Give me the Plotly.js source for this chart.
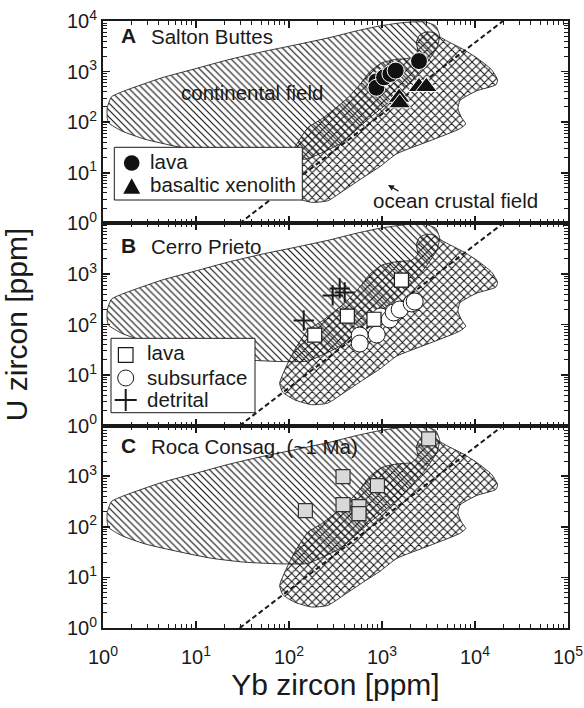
<!DOCTYPE html>
<html>
<head>
<meta charset="utf-8">
<script src="https://cdn.plot.ly/plotly-3.0.1.min.js"></script>
<style>
  html, body { margin: 0; padding: 0; background: #fff; }
  #chart { width: 584px; height: 708px; }
</style>
</head>
<body>
<div id="chart"></div>
<script>
// ---------- tick labels ----------
const xTickVals = [1, 10, 100, 1000, 10000, 100000];
const xTickText = ['10<sup>0</sup>', '10<sup>1</sup>', '10<sup>2</sup>', '10<sup>3</sup>', '10<sup>4</sup>', '10<sup>5</sup>'];
const yTickValsTop = [1, 10, 100, 1000, 10000];
const yTickTextTop = ['10<sup>0</sup>', '10<sup>1</sup>', '10<sup>2</sup>', '10<sup>3</sup>', '10<sup>4</sup>'];
const yTickVals = [1, 10, 100, 1000];
const yTickText = ['10<sup>0</sup>', '10<sup>1</sup>', '10<sup>2</sup>', '10<sup>3</sup>'];

// ---------- reference fields (Yb, U in ppm) ----------
const continentalYb = [1.11, 1.11, 1.23, 1.59, 4.25, 9.68, 21.9, 50.8, 118, 274, 531, 950, 1754, 2877, 3776,
  4169, 3873, 2877, 1549, 738, 351, 157, 115, 75.5, 33.3, 14.7, 6.40, 2.81, 1.58, 1.15];
const continentalU = [123, 192, 316, 397, 750, 1130, 1702, 2449, 3370, 4699, 6368, 8000, 9380, 9594, 8000,
  5082, 2938, 1294, 379, 122, 37.2, 18.8, 18.4, 18.6, 20.0, 23.9, 32.5, 46.1, 67.3, 96.8];

const oceanYb = [79.4, 89.9, 115, 160, 225, 310, 428, 575, 738, 993, 1403, 2085, 2421, 2344, 2541, 3027, 3690,
  4178, 4966, 7430, 10350, 15000, 17500, 16710, 10420, 6900, 6560, 7190, 7940, 6840, 3260, 1439, 944, 619,
  397, 261, 175, 115, 85.5];
const oceanU = [6.92, 12.7, 31.5, 78.2, 116, 183, 302, 546, 986, 1486, 1742, 1866, 2449, 3864, 5309, 6095, 5821,
  4853, 4046, 2773, 1892, 1100, 680, 546, 416, 270, 183, 122, 92.5, 73.8, 42.7, 23.7, 13.1, 7.93,
  4.59, 2.79, 2.60, 3.24, 4.59];

// dashed divide
const divideYb = [29.5, 20000];
const divideU = [1, 10000];

// ---------- A: Salton Buttes ----------
const saltonLavaYb = [871, 871, 1052, 1231, 1403, 2500];
const saltonLavaU = [640, 480, 769, 898, 1045, 1614];
const saltonXenolithYb = [1528, 1550, 2500, 3000];
const saltonXenolithU = [307, 238, 501, 501];

// ---------- B: Cerro Prieto ----------
const cerroLavaYb = [189, 424, 820, 1618];
const cerroLavaU = [61.4, 146, 127, 754];
const cerroSubsurfaceYb = [576, 576, 877, 968, 1210, 1337, 1550, 2085, 2247];
const cerroSubsurfaceU = [60.5, 42, 63.4, 144, 126, 173, 198, 261, 285];
const cerroDetritalYb = [144, 295, 351, 397];
const cerroDetritalU = [120, 375, 516, 430];

// ---------- C: Roca Consag ----------
const consagYb = [150, 381, 381, 566, 566, 893, 3177];
const consagU = [210, 986, 276, 252, 183, 655, 5483];

// ---------- text ----------
const panelLetters = ['A', 'B', 'C'];
const panelNames = ['Salton Buttes', 'Cerro Prieto', 'Roca Consag. (~1 Ma)'];

// ---------- geometry helpers ----------
const W = 584, H = 708;
const M = { l: 103, r: 16, t: 21, b: 80 };
const px = x => (x - M.l) / (W - M.l - M.r);
const py = y => (H - M.b - y) / (H - M.t - M.b);

const FONT = 'Liberation Sans, Arial, Helvetica, sans-serif';
const INK = '#1a1a1a';

const close = a => a.concat([a[0]]);

// ---------- traces ----------
const traces = [];
const panels = [
  { xa: 'x', ya: 'y' },
  { xa: 'x2', ya: 'y2' },
  { xa: 'x3', ya: 'y3' }
];

panels.forEach(p => {
  traces.push({
    type: 'scatter', mode: 'lines', xaxis: p.xa, yaxis: p.ya,
    x: close(continentalYb), y: close(continentalU),
    fill: 'toself', fillcolor: 'rgba(0,0,0,0)',
    fillpattern: { shape: '\\', size: 4.9, solidity: 0.24, fgcolor: '#111', bgcolor: 'rgba(0,0,0,0)' },
    line: { color: '#222', width: 0.9, shape: 'spline', smoothing: 0.5 },
    hoverinfo: 'skip', showlegend: false
  });
  traces.push({
    type: 'scatter', mode: 'lines', xaxis: p.xa, yaxis: p.ya,
    x: close(oceanYb), y: close(oceanU),
    fill: 'toself', fillcolor: 'rgba(0,0,0,0)',
    fillpattern: { shape: 'x', size: 5.8, solidity: 0.32, fgcolor: '#111', bgcolor: 'rgba(0,0,0,0)' },
    line: { color: '#222', width: 0.9, shape: 'spline', smoothing: 0.5 },
    hoverinfo: 'skip', showlegend: false
  });
  traces.push({
    type: 'scatter', mode: 'lines', xaxis: p.xa, yaxis: p.ya,
    x: divideYb, y: divideU,
    line: { color: INK, width: 2, dash: '5px,3px' },
    hoverinfo: 'skip', showlegend: false
  });
});

// Salton Buttes
traces.push({
  type: 'scatter', mode: 'markers', xaxis: 'x', yaxis: 'y', name: 'lava',
  x: saltonLavaYb, y: saltonLavaU,
  marker: { symbol: 'circle', size: 17, color: '#111', line: { color: '#fff', width: 1 } },
  showlegend: false
});
traces.push({
  type: 'scatter', mode: 'markers', xaxis: 'x', yaxis: 'y', name: 'basaltic xenolith',
  x: saltonXenolithYb, y: saltonXenolithU,
  marker: { symbol: 'triangle-up', size: 19, color: '#111', line: { color: '#fff', width: 1 } },
  showlegend: false
});

// Cerro Prieto
traces.push({
  type: 'scatter', mode: 'markers', xaxis: 'x2', yaxis: 'y2', name: 'subsurface',
  x: cerroSubsurfaceYb, y: cerroSubsurfaceU,
  marker: { symbol: 'circle', size: 17, color: '#fff', line: { color: INK, width: 1 } },
  showlegend: false
});
traces.push({
  type: 'scatter', mode: 'markers', xaxis: 'x2', yaxis: 'y2', name: 'lava',
  x: cerroLavaYb, y: cerroLavaU,
  marker: { symbol: 'square', size: 14, color: '#fff', line: { color: INK, width: 1.2 } },
  showlegend: false
});
traces.push({
  type: 'scatter', mode: 'markers', xaxis: 'x2', yaxis: 'y2', name: 'detrital',
  x: cerroDetritalYb, y: cerroDetritalU,
  marker: { symbol: 'cross-thin', size: 14.5, color: INK, line: { color: INK, width: 2 } },
  showlegend: false
});

// Roca Consag
traces.push({
  type: 'scatter', mode: 'markers', xaxis: 'x3', yaxis: 'y3', name: 'Roca Consag',
  x: consagYb, y: consagU,
  marker: { symbol: 'square', size: 14, color: '#d9d9d9', line: { color: '#333', width: 1.2 } },
  showlegend: false
});

// ---------- axes ----------
const tickFont = { family: FONT, size: 20, color: INK };
const baseAxis = {
  type: 'log', ticks: 'inside', ticklen: 7, tickwidth: 1.5, tickcolor: INK,
  showline: true, linewidth: 2, linecolor: INK, mirror: 'allticks',
  showgrid: false, zeroline: false, fixedrange: true, tickfont: tickFont,
  minor: { tickmode: 'linear', dtick: 'D1', ticks: 'inside', ticklen: 4, tickwidth: 1, tickcolor: INK }
};
const xAxis = (anchor, labels) => Object.assign({}, baseAxis, {
  anchor: anchor, range: [0, 5], tickmode: 'array', tickvals: xTickVals, ticktext: xTickText,
  showticklabels: labels
});
const yAxis = (dom, vals, text) => Object.assign({}, baseAxis, {
  domain: dom, range: [0, 4], tickmode: 'array', tickvals: vals, ticktext: text
});

const layout = {
  width: W, height: H, margin: M,
  paper_bgcolor: '#fff', plot_bgcolor: 'rgba(0,0,0,0)',
  font: { family: FONT, color: INK },
  showlegend: false,
  xaxis: xAxis('y', false),
  xaxis2: xAxis('y2', false),
  xaxis3: Object.assign(xAxis('y3', true), {
    ticklabelstandoff: 10,
    title: { text: 'Yb zircon [ppm]', font: { family: FONT, size: 30, color: INK }, standoff: 5 }
  }),
  yaxis: Object.assign(yAxis([2 / 3, 1], yTickValsTop, yTickTextTop), { anchor: 'x' }),
  yaxis2: Object.assign(yAxis([1 / 3, 2 / 3], yTickVals, yTickText), {
    anchor: 'x2',
    title: { text: 'U zircon [ppm]', font: { family: FONT, size: 30, color: INK }, standoff: 30 }
  }),
  yaxis3: Object.assign(yAxis([0, 1 / 3], yTickVals, yTickText), { anchor: 'x3' }),
  shapes: [],
  annotations: []
};

// ---------- text labels ----------
function label(text, x, baseline, size, extra) {
  return Object.assign({
    xref: 'paper', yref: 'paper', x: px(x), y: py(baseline - 0.35 * size),
    xanchor: 'left', yanchor: 'middle', showarrow: false, text: text,
    font: { family: FONT, size: size, color: INK }
  }, extra || {});
}

const baselines = [43.3, 253.3, 453.3];
panelLetters.forEach((l, i) => {
  layout.annotations.push(label('<b>' + l + '</b>', 119, baselines[i], 21));
  layout.annotations.push(label(panelNames[i], 149, baselines[i], 20.5));
});
layout.annotations.push(label('continental field', 179, 99.3, 20.5));
layout.annotations.push(label('ocean crustal field', 371, 208, 20.5));
layout.annotations.push({
  xref: 'paper', yref: 'paper', x: px(388), y: py(185), ax: 12, ay: 7,
  text: '', showarrow: true, arrowhead: 2, arrowsize: 1, arrowwidth: 1.2, arrowcolor: INK
});

// ---------- key boxes ----------
function box(x0, y0, x1, y1) {
  return { type: 'rect', xref: 'paper', yref: 'paper', x0: px(x0), x1: px(x1), y0: py(y1), y1: py(y0),
    line: { color: INK, width: 1 }, fillcolor: '#fff', layer: 'above' };
}
function glyph(type, cx, cy, spec) {
  return Object.assign({
    type: type, xref: 'paper', yref: 'paper', xsizemode: 'pixel', ysizemode: 'pixel',
    xanchor: px(cx), yanchor: py(cy), layer: 'above'
  }, spec);
}

// key A
layout.shapes.push(box(114.3, 147.3, 302.3, 200));
layout.shapes.push(glyph('circle', 131.7, 163, { x0: -7.8, x1: 7.8, y0: -7.8, y1: 7.8, fillcolor: '#111', line: { width: 0 } }));
layout.shapes.push(glyph('path', 131.7, 186.7, { path: 'M-8.5,-7 L8.5,-7 L0,8.5 Z', fillcolor: '#111', line: { width: 0 } }));
layout.annotations.push(label('lava', 148, 168.3, 20.5));
layout.annotations.push(label('basaltic xenolith', 148, 191.7, 20.5));

// key B
layout.shapes.push(box(111, 338.3, 255, 412.7));
layout.shapes.push(glyph('rect', 125.7, 355, { x0: -7.3, x1: 7.3, y0: -7.3, y1: 7.3, fillcolor: '#fff', line: { color: INK, width: 1.2 } }));
layout.shapes.push(glyph('circle', 125.7, 378, { x0: -8, x1: 8, y0: -8, y1: 8, fillcolor: '#fff', line: { color: INK, width: 1 } }));
layout.shapes.push(glyph('path', 125.7, 400, { path: 'M-11,0 L11,0 M0,-11 L0,11', line: { color: INK, width: 2 } }));
layout.annotations.push(label('lava', 145, 359.3, 20.5));
layout.annotations.push(label('subsurface', 145, 384.3, 20.5));
layout.annotations.push(label('detrital', 145, 406.7, 20.5));

Plotly.newPlot('chart', traces, layout, { displayModeBar: false, staticPlot: true });
</script>
</body>
</html>
